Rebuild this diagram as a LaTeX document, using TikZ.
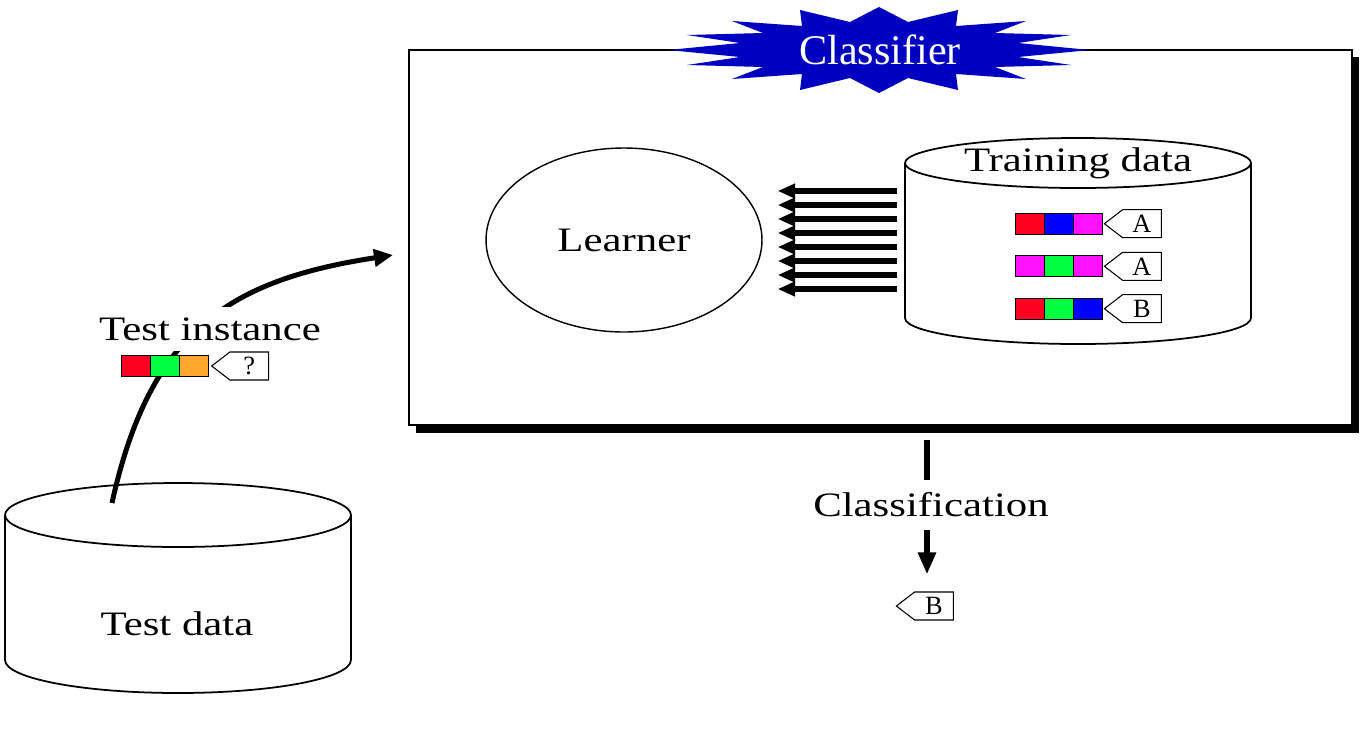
\documentclass[tikz,border=0pt]{standalone}
\usepackage{fontspec}
\setmainfont{Liberation Serif}[FakeStretch=1.25]
\newfontfamily\starfont{Liberation Serif}
\usepackage{tikz}
\usetikzlibrary{positioning}
\usetikzlibrary{arrows.meta}
\usetikzlibrary{shapes.symbols,shapes.geometric}

\definecolor{fred}{RGB}{255,0,32}
\definecolor{fgreen}{RGB}{0,255,64}
\definecolor{fblue}{RGB}{0,0,255}
\definecolor{fmagenta}{RGB}{255,16,255}
\definecolor{forange}{RGB}{255,168,48}
\definecolor{starblue}{RGB}{0,0,192}

\tikzset{
  bigtext/.style={font=\fontsize{19.5}{23}\selectfont},
  cell/.style={draw, line width=0.5pt, minimum width=0.58cm, minimum height=0.42cm, inner sep=0pt, outer sep=0pt},
  tag/.style={draw, line width=0.6pt, fill=white, signal, signal to=west, signal pointer angle=75,
    minimum width=1.14cm, minimum height=0.56cm, inner sep=0pt, font=\starfont\fontsize{15}{17}\selectfont},
  cyl/.style={line width=1pt},
  feed/.style={line width=0.11cm, -{Triangle[length=0.35cm,width=0.28cm]}},
}

\begin{document}
\begin{tikzpicture}[x=0.02cm,y=-0.02cm]
\useasboundingbox (0,0) rectangle (1362,748);
% classifier box with its shadow
\fill (416,57) rectangle (1359,433);
\draw[line width=1pt, fill=white] (409,50) rectangle (1352,425);
\fill[starblue, shift={(879,50)}] (0,-43) -- (29,-28) -- (79,-40) -- (77,-24) -- (147,-29) -- (116,-17)
  -- (192,-15) -- (139,-7) -- (211,0) -- (139,7) -- (192,15) -- (116,17) -- (147,29) -- (77,24)
  -- (79,40) -- (29,28) -- (0,43) -- (-29,28) -- (-79,40) -- (-77,24) -- (-147,29) -- (-116,17)
  -- (-192,15) -- (-139,7) -- (-211,0) -- (-139,-7) -- (-192,-15) -- (-116,-17) -- (-147,-29)
  -- (-77,-24) -- (-79,-40) -- (-29,-28) -- cycle;
\node[text=white, font=\starfont\fontsize{24}{28}\selectfont] (classifier) at (880,50) {Classifier};

\node[draw, line width=0.8pt, ellipse, minimum width=5.52cm, minimum height=3.68cm, bigtext] (learner) at (624,240) {Learner};

% training data
\draw[cyl] (905,163) -- (905,318) arc[start angle=180, end angle=360, x radius=3.46cm, y radius=0.52cm] -- (1251,163);
\draw[cyl] (1078,163) ellipse[x radius=3.46cm, y radius=0.5cm];
\node[bigtext] (training) at (1078,163) {Training data};
\coordinate (trainleft) at (905,163);

\node[cell, fill=fred] (r1a) at (1029.5,223.7) {};
\node[cell, fill=fblue, right=0pt of r1a] (r1b) {};
\node[cell, fill=fmagenta, right=0pt of r1b] (r1c) {};
\node[tag, right=0.03cm of r1c] (t1) {A};
\node[cell, fill=fmagenta] (r2a) at (1029.5,266.3) {};
\node[cell, fill=fgreen, right=0pt of r2a] (r2b) {};
\node[cell, fill=fmagenta, right=0pt of r2b] (r2c) {};
\node[tag, right=0.03cm of r2c] (t2) {A};
\node[cell, fill=fred] (r3a) at (1029.5,308.7) {};
\node[cell, fill=fgreen, right=0pt of r3a] (r3b) {};
\node[cell, fill=fblue, right=0pt of r3b] (r3c) {};
\node[tag, right=0.03cm of r3c] (t3) {B};

\foreach \y in {191,205,...,289}
  \draw[feed, shorten <=0.16cm, shorten >=0.3cm] (trainleft |- 0,\y) -- (learner.east |- 0,\y);

% test data
\draw[cyl] (5,515) -- (5,660) arc[start angle=180, end angle=360, x radius=3.46cm, y radius=0.66cm] -- (351,515);
\draw[cyl] (178,515) ellipse[x radius=3.46cm, y radius=0.64cm];
\node[bigtext] (testdata) at (177,624) {Test data};
\coordinate (pick) at (112,503);
\coordinate (into) at (393,255);

\draw[line width=0.1cm, -{Triangle[length=0.38cm,width=0.34cm]}] (pick) .. controls (150,330) and (230,280) .. (into);
\node[bigtext, fill=white, inner sep=6pt] (instance) at (210,329) {Test instance};
\node[cell, fill=fred] (qa) at (136.3,366) {};
\node[cell, fill=fgreen, right=0pt of qa] (qb) {};
\node[cell, fill=forange, right=0pt of qb] (qc) {};
\node[tag, right=0.04cm of qc] (tq) {?};

% classification
\coordinate (out) at (927,440);
\node[tag] (result) at (934,606) {B};
\draw[line width=0.13cm, -{Triangle[length=0.44cm,width=0.34cm]}, shorten >=0.34cm] (out) -- (out |- result.north);
\node[bigtext, fill=white, inner xsep=2pt, inner ysep=7pt] (classification) at (931,505) {Classification};
\end{tikzpicture}
\end{document}
